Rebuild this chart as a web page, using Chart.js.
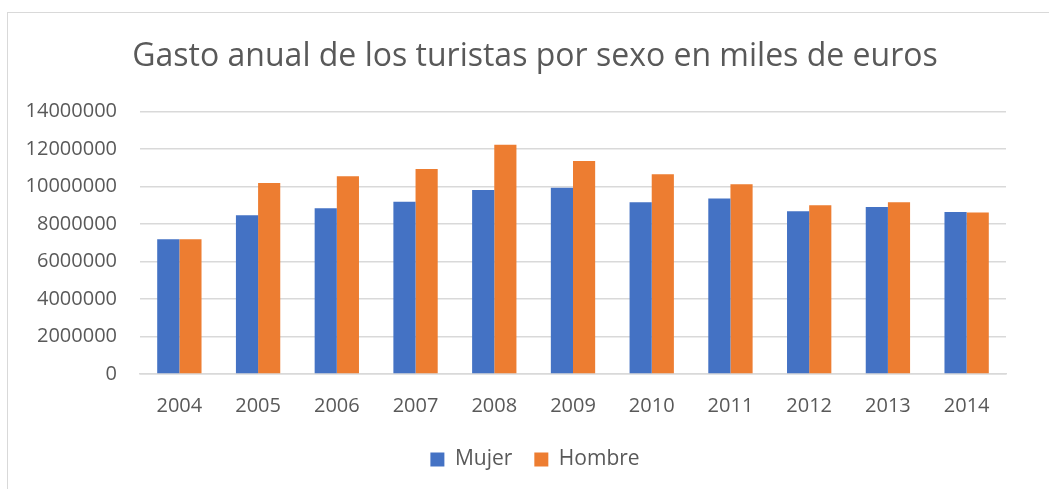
<!DOCTYPE html>
<html>
<head>
<meta charset="utf-8">
<script src="https://cdn.jsdelivr.net/npm/chart.js@4.4.0/dist/chart.umd.min.js"></script>
<style>
  body { margin: 0; background: #fff; }
  #wrap { position: relative; width: 1049px; height: 489px; overflow: hidden; }
  #frame { position: absolute; left: 7px; top: 12px; width: 1100px; height: 600px; border: 1.5px solid #d9d9d9; }
  #chart { position: absolute; left: 0; top: 0; }
</style>
</head>
<body>
<div id="wrap">
  <div id="frame"></div>
  <canvas id="chart" width="1049" height="489"></canvas>
</div>
<script>
    "use strict";

    // Data (miles de euros)
    var years = ["2004", "2005", "2006", "2007", "2008", "2009", "2010", "2011", "2012", "2013", "2014"];
    var mujer = [7180000, 8470000, 8840000, 9180000, 9810000, 9930000, 9150000, 9360000, 8680000, 8900000, 8640000];
    var hombre = [7180000, 10180000, 10540000, 10930000, 12220000, 11360000, 10650000, 10110000, 9000000, 9150000, 8610000];

    var textColor = "#595959";
    var gridColor = "#d9d9d9";
    var fontFamily = "'Open Sans', sans-serif";

    var ctx = document.getElementById("chart").getContext("2d");
    var myChart = new Chart(ctx, {
        type: "bar",
        data: {
            labels: years,
            datasets: [{
                label: "Mujer",
                data: mujer,
                backgroundColor: "#4472C4",
                categoryPercentage: 0.563,
                barPercentage: 1
            },
            {
                label: "Hombre",
                data: hombre,
                backgroundColor: "#ED7D31",
                categoryPercentage: 0.563,
                barPercentage: 1
            }]
        },
        options: {
            responsive: false,
            animation: false,
            layout: {
                padding: { left: 21, right: 0, top: 0, bottom: 9 }
            },
            plugins: {
                title: {
                    display: true,
                    text: "Gasto anual de los turistas por sexo en miles de euros",
                    color: textColor,
                    font: { family: fontFamily, size: 32, weight: "normal", lineHeight: 1.2 },
                    padding: { top: 38, bottom: 35 }
                },
                legend: {
                    position: "bottom",
                    labels: {
                        color: textColor,
                        font: { family: fontFamily, size: 21 },
                        boxWidth: 14,
                        boxHeight: 14,
                        padding: 22
                    }
                },
                tooltip: { enabled: false }
            },
            scales: {
                x: {
                    grid: { display: false, drawTicks: false },
                    border: { display: true, color: gridColor, width: 1.5 },
                    ticks: {
                        color: textColor,
                        font: { family: fontFamily, size: 20 },
                        padding: 20
                    },
                    afterFit: function (scale) { scale.height = 53; }
                },
                y: {
                    min: 0,
                    max: 14000000,
                    grid: { color: gridColor, lineWidth: 1.5, drawTicks: false },
                    border: { display: false },
                    ticks: {
                        stepSize: 2000000,
                        color: textColor,
                        font: { family: fontFamily, size: 20 },
                        padding: 23,
                        callback: function (v) { return String(v); }
                    },
                    afterFit: function (scale) { scale.width = 119; }
                },
                // empty right margin axis
                yRight: {
                    position: "right",
                    display: true,
                    grid: { display: false, drawTicks: false },
                    border: { display: false },
                    ticks: { display: false },
                    afterFit: function (scale) { scale.width = 43; }
                }
            }
        }
    });
</script>
</body>
</html>
